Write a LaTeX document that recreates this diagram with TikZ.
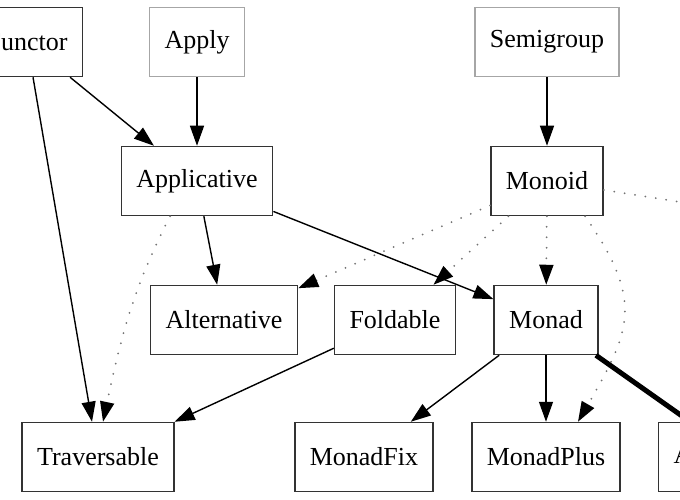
\documentclass[tikz,border=0pt]{standalone}
\usepackage{fontspec}
\setmainfont{Liberation Serif}
\usetikzlibrary{arrows.meta}
\begin{document}
\begin{tikzpicture}[x=1pt, y=-1pt,
    cls/.style={draw=black!80, line width=1.5pt, fill=white, minimum height=69pt,
      inner xsep=15pt, inner ysep=0pt, font=\fontsize{26}{30}\selectfont},
    extcls/.style={cls, draw=black!35},
    sub/.style={-{Triangle[length=20pt,width=14pt,color=black]}, line width=1.4pt},
    weak/.style={sub, black!55, line width=2pt, dash pattern=on 0pt off 10.5pt, line cap=round},
    equiv/.style={line width=5pt}]
  \useasboundingbox (0,0) rectangle (680,500);
  \clip (0,0) rectangle (680,500);

  % first row
  \node[cls] (functor) at (27,42) {Functor};
  \node[extcls] (apply) at (197,42) {Apply};
  \node[extcls] (semigroup) at (547,42) {Semigroup};

  % second row
  \node[cls] (applicative) at (197,181) {Applicative};
  \node[cls] (monoid) at (547,181) {Monoid};

  % third row
  \node[cls] (alternative) at (224,320) {Alternative};
  \node[cls] (foldable) at (395,320) {Foldable};
  \node[cls] (monad) at (546,320) {Monad};

  % last row
  \node[cls] (traversable) at (98,457) {Traversable};
  \node[cls] (monadfix) at (364,457) {MonadFix};
  \node[cls] (monadplus) at (546,457) {MonadPlus};
  \node[cls] (arrowapply) at (740,457) {ArrowApply};
  \coordinate (arrowplus) at (800,221);

  \draw[sub] (functor) -- (applicative);
  \draw[sub] (functor) -- (traversable);
  \draw[sub] (apply) -- (applicative);
  \draw[sub] (semigroup) -- (monoid);

  \draw[sub] (applicative) -- (alternative);
  \draw[sub] (applicative) -- (monad);
  \draw[weak] ([xshift=-27pt]applicative.south) to[out=-117, in=78] ([xshift=5pt]traversable.north);

  \draw[weak] (monoid) -- (alternative);
  \draw[weak] (monoid) -- (foldable);
  \draw[weak] (monoid) -- (monad);
  \draw[weak] ([xshift=38pt]monoid.south) to[out=-55, in=60, looseness=1.3] ([xshift=32pt]monadplus.north);
  \draw[weak, -] (monoid) -- (arrowplus);

  \draw[sub] (foldable) -- (traversable);
  \draw[sub] (monad) -- (monadfix);
  \draw[sub] (monad) -- (monadplus);
  \draw[equiv] (monad) -- (arrowapply);
\end{tikzpicture}
\end{document}
